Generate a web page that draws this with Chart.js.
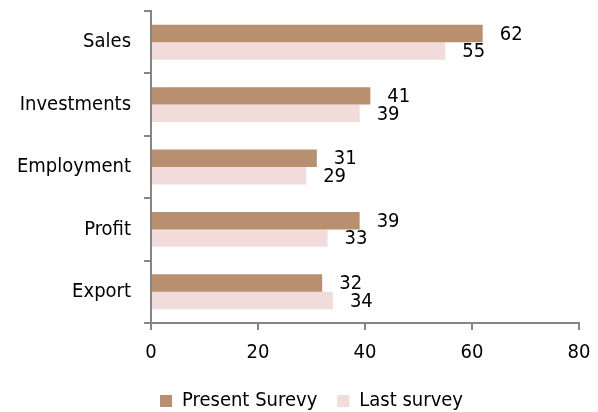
<!DOCTYPE html>
<html>
<head>
<meta charset="utf-8">
<script src="https://cdn.jsdelivr.net/npm/chart.js@4.4.1/dist/chart.umd.min.js"></script>
<style>
    html, body { margin: 0; padding: 0; background: #fff; }
    #wrap { width: 598px; height: 412px; }
</style>
</head>
<body>
<div id="wrap"><canvas id="surveyChart" width="598" height="412"></canvas></div>
<script>
// Survey results per area
const categories = ['Sales', 'Investments', 'Employment', 'Profit', 'Export'];
const presentSurvey = [62, 41, 31, 39, 32];
const lastSurvey = [55, 39, 29, 33, 34];
const xTicks = [0, 20, 40, 60, 80];

const AXIS_COLOR = '#868686';
const FONT = 'DejaVu Sans Condensed';
const FONT_SIZE = 20;

// Writes each bar's value just past its end
const valueLabels = {
    id: 'valueLabels',
    afterDatasetsDraw: (chart) => {
        const ctx = chart.ctx;
        ctx.save();
        ctx.font = `${FONT_SIZE}px "${FONT}"`;
        ctx.fillStyle = '#000';
        ctx.textAlign = 'left';
        ctx.textBaseline = 'middle';
        chart.data.datasets.forEach((ds, i) => {
            chart.getDatasetMeta(i).data.forEach((bar, j) => {
                ctx.fillText(String(ds.data[j]), bar.x + 17, bar.y + 1);
            });
        });
        ctx.restore();
    }
};

// Nudges the legend a bit right of the canvas centre
const legendShift = {
    id: 'legendShift',
    afterLayout: (chart) => {
        const legend = chart.legend;
        if (!legend) return;
        legend.left += 22;
        legend.right += 22;
    }
};

const init = () => {
    const ctx = document.querySelector('#surveyChart');

    new Chart(ctx, {
        type: 'bar',
        data: {
            labels: categories,
            datasets: [
                {
                    label: 'Present Surevy',
                    data: presentSurvey,
                    backgroundColor: '#B9906F',
                    categoryPercentage: 0.56,
                    barPercentage: 1
                },
                {
                    label: 'Last survey',
                    data: lastSurvey,
                    backgroundColor: '#F2DCDB',
                    categoryPercentage: 0.56,
                    barPercentage: 1
                }
            ]
        },
        options: {
            indexAxis: 'y',
            responsive: false,
            animation: false,
            layout: { padding: { top: 11, right: 19, left: 0, bottom: -9 } },
            plugins: {
                legend: {
                    position: 'bottom',
                    labels: {
                        boxWidth: 12,
                        boxHeight: 12,
                        padding: 20,
                        color: '#000',
                        font: { family: FONT, size: FONT_SIZE }
                    }
                },
                tooltip: { enabled: false }
            },
            scales: {
                x: {
                    min: 0,
                    max: 80,
                    afterBuildTicks: (scale) => {
                        scale.ticks = xTicks.map(v => ({ value: v }));
                    },
                    afterFit: (scale) => {
                        scale.height = 48;
                        scale.paddingLeft = 0;
                        scale.paddingRight = 0;
                    },
                    border: { color: AXIS_COLOR, width: 2 },
                    grid: {
                        drawOnChartArea: false,
                        color: AXIS_COLOR,
                        lineWidth: 2,
                        tickLength: 7
                    },
                    ticks: {
                        color: '#000',
                        padding: 11,
                        maxRotation: 0,
                        font: { family: FONT, size: FONT_SIZE }
                    }
                },
                y: {
                    afterFit: (scale) => {
                        scale.width = 151;
                        scale.paddingTop = 0;
                        scale.paddingBottom = 0;
                    },
                    border: { color: AXIS_COLOR, width: 2 },
                    grid: {
                        drawOnChartArea: false,
                        offset: true,
                        color: AXIS_COLOR,
                        lineWidth: 2,
                        tickLength: 7
                    },
                    ticks: {
                        color: '#000',
                        padding: 13,
                        font: { family: FONT, size: FONT_SIZE }
                    }
                }
            }
        },
        plugins: [valueLabels, legendShift]
    });
};

init();
</script>
</body>
</html>
